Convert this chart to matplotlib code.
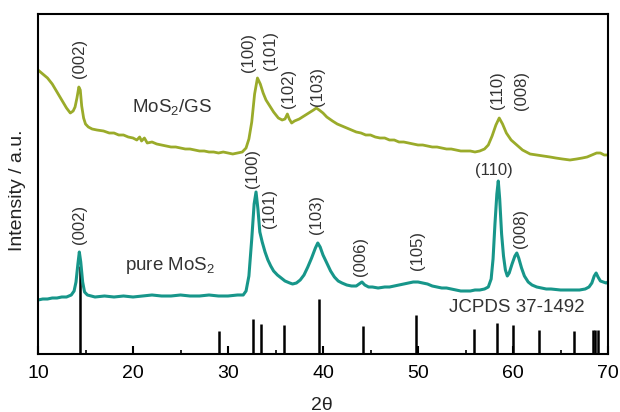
import matplotlib
matplotlib.use('Agg')
import matplotlib.pyplot as plt
import numpy as np

plt.rcParams['font.family'] = ['Liberation Sans', 'DejaVu Sans']
plt.rcParams['mathtext.fontset'] = 'custom'
plt.rcParams['mathtext.rm'] = 'Liberation Sans'

# MoS2/GS pattern (2theta, intensity a.u.)
gs_x = [10.0, 10.5, 11.0, 11.5, 12.0, 12.5, 13.0, 13.4, 13.7, 13.9, 14.1, 14.3, 14.45, 14.6, 14.8,
        15.0, 15.3, 15.7, 16.2, 16.9, 17.5, 18.0, 18.5, 19.0, 19.5, 20.0, 20.4, 20.7, 20.9, 21.2,
        21.5, 22.0, 22.5, 23.0, 23.5, 24.0, 24.5, 25.0, 25.5, 26.0, 26.5, 27.0, 27.5, 28.0, 28.5,
        29.0, 29.5, 30.0, 30.5, 31.0, 31.5, 31.9, 32.2, 32.5, 32.8, 33.1, 33.4, 33.7, 34.0, 34.4,
        34.8, 35.3, 35.7, 36.0, 36.25, 36.45, 36.7, 37.0, 37.5, 38.0, 38.5, 39.0, 39.3, 39.6, 40.0,
        40.4, 41.0, 41.5, 42.0, 42.5, 43.0, 43.5, 44.0, 44.5, 45.0, 45.5, 46.0, 46.5, 47.0, 47.5,
        48.0, 48.5, 49.0, 49.5, 50.0, 50.5, 51.0, 51.5, 52.0, 52.5, 53.0, 53.5, 54.0, 54.5, 55.0,
        55.5, 56.0, 56.5, 57.0, 57.4, 57.8, 58.2, 58.55, 58.9, 59.3, 59.8, 60.4, 61.0, 61.8, 62.5,
        63.2, 63.9, 64.5, 65.2, 66.0, 66.7, 67.3, 67.8, 68.3, 68.8, 69.2, 69.6, 70.0]
gs_y = [284, 280, 276, 270, 262, 254, 246, 241, 243, 247, 256, 267, 264, 248, 236,
        230, 227, 225, 224, 223, 221, 221, 219, 219, 217, 216, 214, 217, 213, 216,
        211, 212, 210, 209, 208, 207, 207, 206, 205, 205, 204, 203, 203, 202, 202,
        201, 202, 201, 200, 201, 202, 206, 215, 232, 260, 276, 270, 261, 254, 248,
        242, 236, 234, 235, 240, 235, 231, 233, 235, 238, 241, 244, 246, 244, 241,
        237, 233, 230, 228, 226, 224, 222, 221, 219, 219, 217, 216, 216, 214, 214,
        212, 212, 211, 210, 209, 209, 208, 207, 207, 206, 205, 205, 204, 203, 203,
        203, 202, 203, 205, 209, 218, 229, 236, 230, 221, 214, 209, 204, 200, 199,
        198, 197, 196, 195, 194, 195, 196, 197, 199, 201, 201, 199, 199]

# pure MoS2 pattern
pure_x = [10.0, 10.5, 11.0, 11.5, 12.0, 12.5, 13.0, 13.5, 13.8, 14.0, 14.2, 14.35, 14.5, 14.7, 14.9,
          15.2, 15.6, 16.0, 17.0, 18.0, 19.0, 20.0, 21.0, 22.0, 23.0, 24.0, 25.0, 26.0, 27.0, 28.0,
          29.0, 30.0, 31.0, 31.6, 31.9, 32.2, 32.5, 32.75, 32.95, 33.15, 33.35, 33.6, 33.9, 34.2, 34.5,
          34.8, 35.2, 35.6, 36.0, 36.5, 36.8, 37.2, 37.6, 38.0, 38.4, 38.8, 39.2, 39.45, 39.7, 40.0,
          40.4, 40.8, 41.2, 41.6, 42.0, 42.5, 43.0, 43.5, 43.8, 44.1, 44.4, 44.8, 45.2, 45.8, 46.5,
          47.0, 47.5, 48.0, 48.5, 49.0, 49.5, 50.0, 50.5, 51.0, 51.5, 52.0, 52.5, 53.0, 53.5, 54.0,
          54.5, 55.0, 55.5, 56.0, 56.5, 57.0, 57.4, 57.7, 57.9, 58.1, 58.3, 58.45, 58.6, 58.8, 59.0,
          59.2, 59.4, 59.6, 59.9, 60.2, 60.4, 60.6, 60.9, 61.2, 61.6, 62.0, 62.5, 63.0, 63.5, 64.0,
          65.0, 66.0, 67.0, 67.6, 68.0, 68.3, 68.55, 68.75, 68.95, 69.2, 69.5, 69.8, 70.0]
pure_y = [54, 55, 55, 56, 56, 57, 57, 59, 63, 72, 90, 102, 92, 72, 62,
          59, 58, 57, 58, 57, 58, 57, 58, 59, 58, 58, 59, 58, 58, 59,
          58, 58, 59, 59, 63, 78, 115, 150, 162, 145, 122, 112, 102, 94, 88,
          83, 79, 76, 73, 71, 70, 71, 74, 79, 87, 96, 106, 111, 107, 99,
          91, 83, 77, 73, 71, 69, 68, 68, 70, 72, 69, 67, 67, 66, 67,
          67, 68, 69, 70, 71, 72, 72, 71, 70, 68, 67, 66, 66, 65, 64,
          63, 63, 63, 64, 64, 65, 67, 75, 95, 130, 160, 173, 155, 120, 98,
          84, 78, 81, 90, 98, 101, 96, 86, 78, 72, 69, 67, 66, 65, 65,
          64, 64, 64, 65, 67, 71, 78, 81, 77, 73, 72, 71, 72]

# JCPDS 37-1492 reference lines
ref_pos = [14.4, 29.05, 32.67, 33.47, 35.9, 39.54, 44.17, 49.79, 55.93, 58.28, 60.03, 62.74,
           66.45, 68.38, 68.66, 68.95]
ref_int = [88, 23, 35, 30, 29, 55, 28, 39, 25, 31, 29, 24, 23, 24, 24, 24]

# peak labels: (text, x, y)
gs_labels = [('(002)', 14.32, 296), ('(100)', 32.2, 302), ('(101)', 34.5, 304),
             ('(102)', 36.4, 266), ('(103)', 39.4, 268), ('(110)', 58.4, 264),
             ('(008)', 60.9, 263)]
pure_labels = [('(002)', 14.32, 130), ('(100)', 32.6, 186), ('(101)', 34.4, 146),
               ('(103)', 39.3, 139), ('(006)', 43.9, 97), ('(105)', 50.0, 104),
               ('(008)', 60.8, 125)]

fig = plt.figure(figsize=(6.2, 4.12), dpi=100)
ax = fig.add_axes([38/620, 58/412, 570/620, 340/412])

ax.vlines(ref_pos, 0, ref_int, color='black', lw=1.8, zorder=1)
ax.plot(gs_x, gs_y, color='#9aab2a', lw=2.0, zorder=2)
ax.plot(pure_x, pure_y, color='#17968a', lw=2.2, zorder=2)

lab_col = '#333333'
for t, x, y in gs_labels + pure_labels:
    ax.text(x, y, t, rotation=90, ha='center', va='center', fontsize=12, color=lab_col)
ax.text(58.0, 184, '(110)', ha='center', va='center', fontsize=12, color=lab_col)

ax.text(24.1, 246, r'MoS$_2$/GS', ha='center', va='center', fontsize=13.5, color=lab_col)
ax.text(23.9, 89, r'pure MoS$_2$', ha='center', va='center', fontsize=13.5, color=lab_col)
ax.text(60.4, 47, 'JCPDS 37-1492', ha='center', va='center', fontsize=13.5, color=lab_col)

ax.set_xlim(10, 70)
ax.set_ylim(0, 340)
ax.set_xticks([10, 20, 30, 40, 50, 60, 70])
ax.set_xticks([15, 25, 35, 45, 55, 65], minor=True)
ax.set_yticks([])
ax.tick_params(axis='x', direction='in', length=6, width=1.5, labelsize=14, pad=8)
ax.tick_params(axis='x', which='minor', direction='in', length=3, width=1.2)
for s in ax.spines.values():
    s.set_linewidth(1.5)

fig.text(18/620, (412-190)/412, 'Intensity / a.u.', rotation=90, ha='center', va='center',
         fontsize=14, color='#222222')
fig.text(322/620, 7/412, '2θ', ha='center', va='center', fontsize=14, color='#222222')

plt.savefig('out.png', dpi=100)
